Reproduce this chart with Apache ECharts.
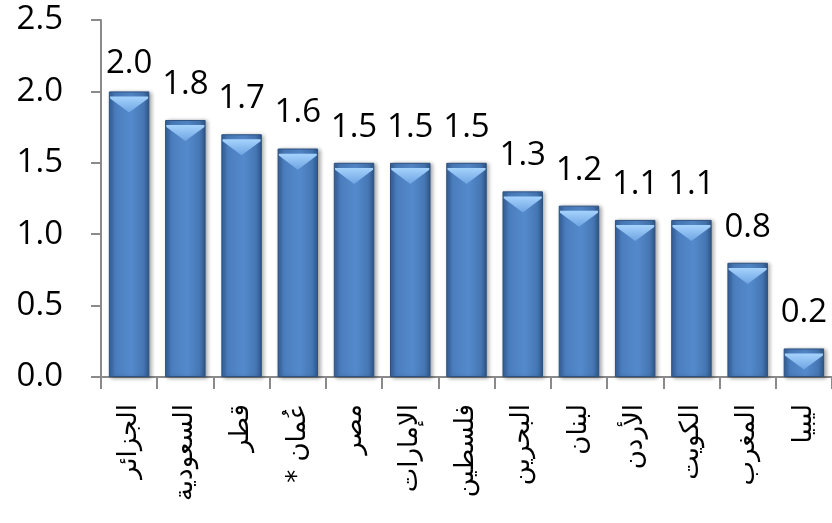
<!DOCTYPE html>
<html>
<head>
<meta charset="utf-8">
<script src="https://cdn.jsdelivr.net/npm/echarts@6/dist/echarts.min.js"></script>
<style>
  html, body { margin: 0; padding: 0; background: #fff; }
  #chart { width: 832px; height: 523px; }
</style>
</head>
<body>
<!-- right-to-left base direction so the Arabic country names lay out in their natural order -->
<div id="chart" dir="rtl"></div>
<script>
// Countries, in descending order of value
const categories = ['الجزائر', 'السعودية', 'قطر', 'عُمان *', 'مصر', 'الإمارات', 'فلسطين', 'البحرين', 'لبنان', 'الأردن', 'الكويت', 'المغرب', 'ليبيا'];
const values = [2.0, 1.8, 1.7, 1.6, 1.5, 1.5, 1.5, 1.3, 1.2, 1.1, 1.1, 0.8, 0.2];
const yTicks = [0.0, 0.5, 1.0, 1.5, 2.0, 2.5];

const chart = echarts.init(document.getElementById('chart'), null, { renderer: 'canvas' });

const axisGrey = '#8a8a8a';
const barFill = new echarts.graphic.LinearGradient(0, 0, 1, 0, [
  { offset: 0, color: '#35609a' },
  { offset: 0.15, color: '#4a7dbd' },
  { offset: 0.55, color: '#548acc' },
  { offset: 0.85, color: '#4677b4' },
  { offset: 1, color: '#2f5687' }
]);
const capFill = new echarts.graphic.LinearGradient(0, 0, 0, 1, [
  { offset: 0, color: '#a6d3fd' },
  { offset: 1, color: '#6ea4e2' }
]);

chart.setOption({
  animation: false,
  grid: { left: 101, top: 20, width: 738, bottom: 146, containLabel: false },
  xAxis: {
    type: 'category',
    data: categories,
    axisLine: { lineStyle: { color: axisGrey, width: 2 } },
    axisTick: { show: true, length: 12, lineStyle: { color: axisGrey, width: 2 } },
    axisLabel: {
      rotate: 90,
      margin: 27,
      interval: 0,
      color: '#000',
      fontFamily: 'DejaVu Sans',
      fontSize: 26
    }
  },
  yAxis: {
    type: 'value',
    min: yTicks[0],
    max: yTicks[yTicks.length - 1],
    interval: 0.5,
    splitLine: { show: false },
    axisLine: { show: true, lineStyle: { color: axisGrey, width: 2 } },
    axisTick: { show: true, length: 10, lineStyle: { color: axisGrey, width: 2 } },
    axisLabel: {
      margin: 38,
      color: '#000',
      fontFamily: 'Open Sans',
      fontSize: 33,
      formatter: v => v.toFixed(1)
    }
  },
  series: [
    {
      type: 'bar',
      data: values.map((v, i) => i === 0 ? { value: v, label: { offset: [0, 8] } } : v),
      barWidth: '72%',
      itemStyle: {
        color: barFill,
        borderColor: '#2c5282',
        borderWidth: 1,
        shadowBlur: 4,
        shadowOffsetX: 2,
        shadowOffsetY: 1,
        shadowColor: 'rgba(0,0,0,0.35)'
      },
      label: {
        show: true,
        position: 'top',
        distance: 19,
        color: '#000',
        fontFamily: 'Open Sans',
        fontSize: 33,
        formatter: p => p.value.toFixed(1)
      },
      z: 2
    },
    {
      // bevelled highlight at the top of each column
      type: 'pictorialBar',
      data: values,
      symbol: 'path://M0,0 L40,0 L40,2 L20,17 L0,2 Z',
      symbolSize: [38, 16],
      symbolPosition: 'end',
      symbolOffset: [0, '32%'],
      itemStyle: { color: capFill },
      silent: true,
      z: 3
    }
  ]
});
</script>
</body>
</html>
